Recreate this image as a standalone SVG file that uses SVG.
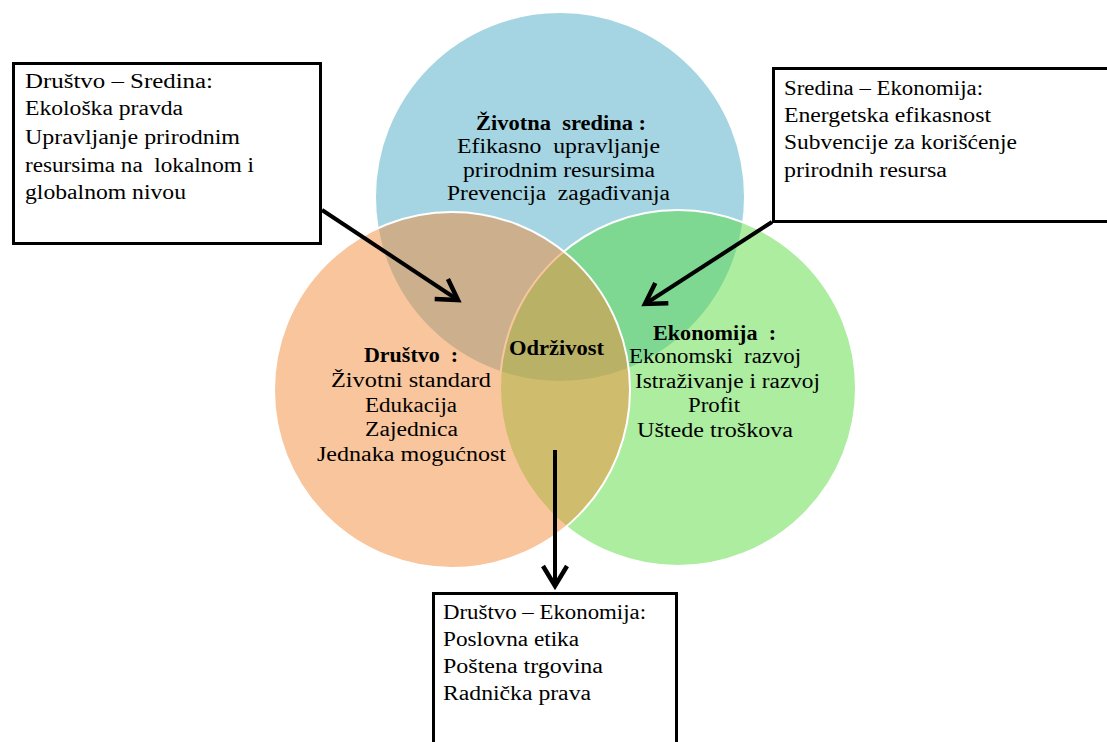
<svg xmlns="http://www.w3.org/2000/svg" width="1107" height="742" viewBox="0 0 1107 742">
  <style>
    .c { stroke: #ffffff; stroke-width: 2; fill-opacity: 0.5; }
    .t { font-family: "Liberation Serif", "Times New Roman", "DejaVu Serif", serif; font-size: 20px; fill: #000; white-space: pre; }
    .b { font-weight: bold; }
    .box { fill: #ffffff; stroke: #000; stroke-width: 3; }
    .arr { stroke: #000; stroke-width: 4; fill: none; marker-end: url(#head); }
  </style>
  <defs>
    <marker id="head" markerUnits="userSpaceOnUse" viewBox="-4 -4 30 32" refX="20" refY="12" markerWidth="30" markerHeight="32" orient="auto">
      <path d="M0,0 L20,12 L0,24" fill="none" stroke="#000" stroke-width="4.5" stroke-linejoin="miter"/>
    </marker>
  </defs>
  <rect width="1107" height="742" fill="#ffffff"/>
  <g id="circle-sredina">
    <circle class="c" cx="560" cy="197" r="185" fill="#4babc5"/>
  </g>
  <g id="circle-ekonomija">
    <circle class="c" cx="678" cy="388" r="178" fill="#59db41"/>
  </g>
  <g id="circle-drustvo">
    <circle class="c" cx="452" cy="390" r="178" fill="#f38b39"/>
  </g>
  <g id="label-sredina" class="t" font-family="Liberation Serif, Times New Roman, serif">
    <text class="t b" x="476" y="130" textLength="170" lengthAdjust="spacingAndGlyphs">Životna  sredina :</text>
    <text class="t" x="457" y="153" textLength="203" lengthAdjust="spacingAndGlyphs">Efikasno  upravljanje</text>
    <text class="t" x="463" y="177" textLength="192" lengthAdjust="spacingAndGlyphs">prirodnim resursima</text>
    <text class="t" x="447" y="200" textLength="223" lengthAdjust="spacingAndGlyphs">Prevencija  zagađivanja</text>
  </g>
  <g id="label-drustvo">
    <text class="t b" x="364" y="362" textLength="94" lengthAdjust="spacingAndGlyphs">Društvo  :</text>
    <text class="t" x="331" y="387" textLength="160" lengthAdjust="spacingAndGlyphs">Životni standard</text>
    <text class="t" x="365" y="412" textLength="92" lengthAdjust="spacingAndGlyphs">Edukacija</text>
    <text class="t" x="365" y="436" textLength="93" lengthAdjust="spacingAndGlyphs">Zajednica</text>
    <text class="t" x="317" y="461" textLength="189" lengthAdjust="spacingAndGlyphs">Jednaka mogućnost</text>
  </g>
  <g id="label-ekonomija">
    <text class="t b" x="653" y="340" textLength="123" lengthAdjust="spacingAndGlyphs">Ekonomija  :</text>
    <text class="t" x="629" y="363" textLength="172" lengthAdjust="spacingAndGlyphs">Ekonomski  razvoj</text>
    <text class="t" x="635" y="388" textLength="185" lengthAdjust="spacingAndGlyphs">Istraživanje i razvoj</text>
    <text class="t" x="688" y="412" textLength="52" lengthAdjust="spacingAndGlyphs">Profit</text>
    <text class="t" x="637" y="437" textLength="156" lengthAdjust="spacingAndGlyphs">Uštede troškova</text>
  </g>
  <g id="label-odrzivost">
    <text class="t b" x="509" y="355" textLength="95" lengthAdjust="spacingAndGlyphs">Održivost</text>
  </g>
  <g id="connectors">
    <line class="arr" x1="322" y1="210" x2="458" y2="300"/>
    <line class="arr" x1="772" y1="222" x2="645" y2="304"/>
    <line class="arr" x1="555" y1="450" x2="555" y2="586"/>
  </g>
  <g id="box-drustvo-sredina">
    <rect class="box" x="13.5" y="63.5" width="307" height="180"/>
    <text class="t" x="25" y="88" textLength="188" lengthAdjust="spacingAndGlyphs">Društvo – Sredina:</text>
    <text class="t" x="25" y="115" textLength="158" lengthAdjust="spacingAndGlyphs">Ekološka pravda</text>
    <text class="t" x="25" y="144" textLength="215" lengthAdjust="spacingAndGlyphs">Upravljanje prirodnim</text>
    <text class="t" x="25" y="172" textLength="229" lengthAdjust="spacingAndGlyphs">resursima na  lokalnom i</text>
    <text class="t" x="25" y="199" textLength="161" lengthAdjust="spacingAndGlyphs">globalnom nivou</text>
  </g>
  <g id="box-sredina-ekonomija">
    <rect class="box" x="773.5" y="68.5" width="340" height="153"/>
    <text class="t" x="784" y="95" textLength="199" lengthAdjust="spacingAndGlyphs">Sredina – Ekonomija:</text>
    <text class="t" x="784" y="122" textLength="207" lengthAdjust="spacingAndGlyphs">Energetska efikasnost</text>
    <text class="t" x="784" y="149" textLength="233" lengthAdjust="spacingAndGlyphs">Subvencije za korišćenje</text>
    <text class="t" x="784" y="177" textLength="163" lengthAdjust="spacingAndGlyphs">prirodnih resursa</text>
  </g>
  <g id="box-drustvo-ekonomija">
    <rect class="box" x="433.5" y="593.5" width="243" height="160"/>
    <text class="t" x="443" y="619" textLength="203" lengthAdjust="spacingAndGlyphs">Društvo – Ekonomija:</text>
    <text class="t" x="443" y="646" textLength="136" lengthAdjust="spacingAndGlyphs">Poslovna etika</text>
    <text class="t" x="443" y="673" textLength="160" lengthAdjust="spacingAndGlyphs">Poštena trgovina</text>
    <text class="t" x="443" y="700" textLength="148" lengthAdjust="spacingAndGlyphs">Radnička prava</text>
  </g>
</svg>
